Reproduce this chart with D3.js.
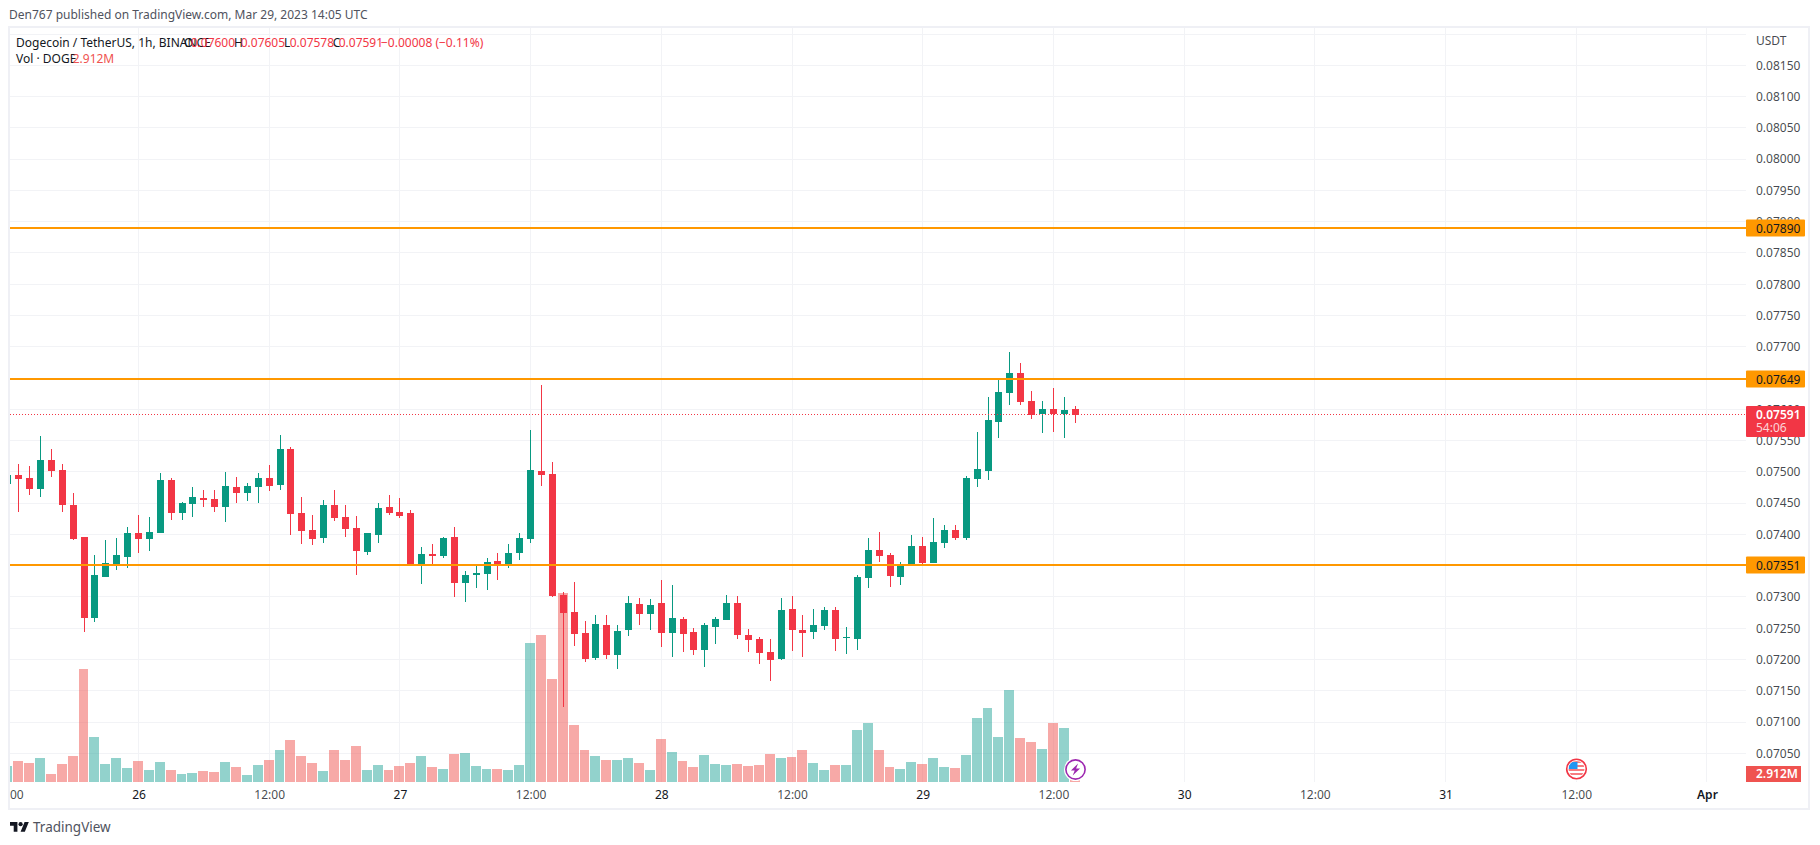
<!DOCTYPE html>
<html>
<head>
<meta charset="utf-8">
<title>Dogecoin / TetherUS</title>
<script src="https://cdn.jsdelivr.net/npm/d3@7"></script>
<style>
    html, body { margin: 0; padding: 0; background: #fff; }
    svg { display: block; }
    text { font-family: "Noto Sans", sans-serif; font-size: 12px; }
</style>
</head>
<body>
<svg id="chart" width="1820" height="845"></svg>
<script>
// First candle on the chart is Mar 25 12:00 UTC, one candle per hour
const firstCandle = new Date(Date.UTC(2023, 2, 25, 12));

const opens = [
    0.07481, 0.07495, 0.07490, 0.07473, 0.07519, 0.07503, 0.07447, 0.07396, 0.07266, 0.07332,
    0.07353, 0.07364, 0.07402, 0.07393, 0.07402, 0.07487, 0.07434, 0.07449, 0.07458, 0.07457,
    0.07444, 0.07476, 0.07466, 0.07476, 0.07490, 0.07479, 0.07537, 0.07434, 0.07407, 0.07394,
    0.07447, 0.07428, 0.07410, 0.07372, 0.07399, 0.07444, 0.07436, 0.07434, 0.07353, 0.07369,
    0.07366, 0.07396, 0.07322, 0.07335, 0.07337, 0.07358, 0.07351, 0.07370, 0.07393, 0.07501,
    0.07497, 0.07303, 0.07276, 0.07242, 0.07202, 0.07255, 0.07207, 0.07247, 0.07289, 0.07273,
    0.07290, 0.07242, 0.07265, 0.07244, 0.07215, 0.07252, 0.07263, 0.07290, 0.07239, 0.07233,
    0.07212, 0.07201, 0.07281, 0.07247, 0.07244, 0.07254, 0.07279, 0.07234, 0.07233, 0.07330,
    0.07375, 0.07367, 0.07332, 0.07350, 0.07382, 0.07354, 0.07386, 0.07407, 0.07394, 0.07489,
    0.07501, 0.07580, 0.07626, 0.07658, 0.07613, 0.07593, 0.07601, 0.07593, 0.07600
];
const highs = [
    0.07497, 0.07513, 0.07509, 0.07557, 0.07537, 0.07513, 0.07466, 0.07396, 0.07367, 0.07391,
    0.07394, 0.07412, 0.07431, 0.07428, 0.07498, 0.07490, 0.07452, 0.07476, 0.07471, 0.07471,
    0.07500, 0.07492, 0.07482, 0.07498, 0.07511, 0.07559, 0.07540, 0.07460, 0.07431, 0.07455,
    0.07471, 0.07447, 0.07429, 0.07402, 0.07450, 0.07463, 0.07458, 0.07439, 0.07380, 0.07385,
    0.07396, 0.07412, 0.07342, 0.07350, 0.07362, 0.07370, 0.07385, 0.07402, 0.07567, 0.07639,
    0.07516, 0.07308, 0.07324, 0.07262, 0.07271, 0.07271, 0.07255, 0.07302, 0.07298, 0.07297,
    0.07327, 0.07319, 0.07268, 0.07250, 0.07258, 0.07268, 0.07303, 0.07302, 0.07249, 0.07236,
    0.07233, 0.07298, 0.07302, 0.07271, 0.07281, 0.07284, 0.07284, 0.07252, 0.07335, 0.07394,
    0.07404, 0.07370, 0.07356, 0.07399, 0.07396, 0.07426, 0.07415, 0.07415, 0.07493, 0.07564,
    0.07620, 0.07650, 0.07692, 0.07674, 0.07629, 0.07613, 0.07634, 0.07620, 0.07605
];
const lows = [
    0.07480, 0.07436, 0.07463, 0.07460, 0.07492, 0.07436, 0.07391, 0.07244, 0.07260, 0.07332,
    0.07343, 0.07346, 0.07370, 0.07374, 0.07402, 0.07423, 0.07423, 0.07428, 0.07444, 0.07436,
    0.07420, 0.07450, 0.07453, 0.07450, 0.07469, 0.07471, 0.07399, 0.07385, 0.07383, 0.07386,
    0.07421, 0.07396, 0.07335, 0.07367, 0.07386, 0.07431, 0.07426, 0.07351, 0.07321, 0.07353,
    0.07362, 0.07300, 0.07292, 0.07314, 0.07311, 0.07327, 0.07346, 0.07359, 0.07386, 0.07477,
    0.07300, 0.07124, 0.07222, 0.07196, 0.07199, 0.07201, 0.07185, 0.07238, 0.07255, 0.07247,
    0.07220, 0.07204, 0.07212, 0.07207, 0.07188, 0.07225, 0.07263, 0.07233, 0.07212, 0.07193,
    0.07166, 0.07199, 0.07214, 0.07204, 0.07233, 0.07247, 0.07214, 0.07209, 0.07215, 0.07314,
    0.07356, 0.07316, 0.07319, 0.07350, 0.07351, 0.07354, 0.07378, 0.07391, 0.07391, 0.07476,
    0.07487, 0.07554, 0.07607, 0.07607, 0.07585, 0.07562, 0.07564, 0.07554, 0.07578
];
const closes = [
    0.07495, 0.07489, 0.07473, 0.07519, 0.07501, 0.07447, 0.07393, 0.07266, 0.07335, 0.07354,
    0.07367, 0.07402, 0.07393, 0.07404, 0.07487, 0.07434, 0.07450, 0.07460, 0.07455, 0.07444,
    0.07477, 0.07466, 0.07477, 0.07490, 0.07477, 0.07537, 0.07433, 0.07405, 0.07393, 0.07447,
    0.07426, 0.07409, 0.07374, 0.07402, 0.07442, 0.07434, 0.07429, 0.07353, 0.07369, 0.07366,
    0.07394, 0.07322, 0.07335, 0.07338, 0.07356, 0.07353, 0.07370, 0.07394, 0.07503, 0.07495,
    0.07302, 0.07274, 0.07241, 0.07201, 0.07257, 0.07207, 0.07246, 0.07290, 0.07273, 0.07287,
    0.07242, 0.07266, 0.07241, 0.07215, 0.07255, 0.07265, 0.07290, 0.07239, 0.07231, 0.07210,
    0.07199, 0.07279, 0.07247, 0.07242, 0.07255, 0.07279, 0.07233, 0.07236, 0.07332, 0.07375,
    0.07366, 0.07334, 0.07351, 0.07382, 0.07354, 0.07388, 0.07407, 0.07394, 0.07490, 0.07505,
    0.07583, 0.07628, 0.07658, 0.07612, 0.07591, 0.07601, 0.07593, 0.07599, 0.07591
];
// Volume in millions of DOGE
const volumes = [
    5.82, 7.64, 6.91, 8.73, 2.91, 6.55, 9.46, 41.12, 16.38, 6.55,
    8.73, 5.09, 7.64, 4.37, 7.28, 4.37, 2.91, 3.28, 4.00, 3.64,
    7.28, 5.46, 2.55, 6.19, 8.01, 11.64, 15.28, 9.46, 6.91, 4.00,
    11.64, 8.01, 13.10, 4.37, 6.19, 4.37, 5.82, 6.91, 9.46, 5.46,
    4.73, 10.19, 10.55, 5.82, 4.73, 4.73, 4.37, 6.19, 50.58, 53.49,
    37.48, 68.78, 20.74, 11.64, 9.46, 8.01, 8.01, 8.73, 6.91, 4.37,
    15.65, 10.92, 7.64, 5.46, 9.83, 6.55, 6.19, 6.55, 5.82, 6.19,
    10.19, 8.73, 9.10, 11.64, 6.91, 4.37, 6.19, 6.19, 18.92, 21.47,
    11.64, 5.46, 4.73, 7.28, 6.55, 8.73, 5.46, 5.09, 9.83, 23.29,
    26.93, 16.38, 33.48, 16.01, 14.56, 12.01, 21.47, 19.65, 2.912
];

const priceTicks = [
    0.0815, 0.0810, 0.0805, 0.0800, 0.0795, 0.0790, 0.0785, 0.0780, 0.0775, 0.0770, 0.0765, 0.0760,
    0.0755, 0.0750, 0.0745, 0.0740, 0.0735, 0.0730, 0.0725, 0.0720, 0.0715, 0.0710, 0.0705
];
const timeTicks = [
    '2023-03-25T12:00Z', '2023-03-26T00:00Z', '2023-03-26T12:00Z', '2023-03-27T00:00Z', '2023-03-27T12:00Z',
    '2023-03-28T00:00Z', '2023-03-28T12:00Z', '2023-03-29T00:00Z', '2023-03-29T12:00Z', '2023-03-30T00:00Z',
    '2023-03-30T12:00Z', '2023-03-31T00:00Z', '2023-03-31T12:00Z', '2023-04-01T00:00Z'
].map(d => new Date(d));
const levels = [0.07890, 0.07649, 0.07351];
const lastPrice = 0.07591;

const upColor = '#089981';
const downColor = '#f23645';
const upVolume = '#26a69a';
const downVolume = '#ef5350';
const gridColor = '#f2f3f6';
const borderColor = '#eff0f5';
const textColor = '#131722';
const levelColor = '#ff9800';

// Pane edges
const paneLeft = 10;
const paneRight = 1746;
const paneTop = 28;
const paneBottom = 782;

const candles = opens.map((open, i) => ({
    time: d3.utcHour.offset(firstCandle, i),
    open, high: highs[i], low: lows[i], close: closes[i], volume: volumes[i]
}));

const xScale = d3.scaleUtc()
    .domain([new Date(Date.UTC(2023, 2, 26)), new Date(Date.UTC(2023, 3, 1))])
    .range([138.5, 138.5 + 144 * 10.892]);
const yScale = d3.scaleLinear().domain([0.0815, 0.0705]).range([65.3, 753.3]);
const volumeScale = d3.scaleLinear().domain([0, 68.78]).range([paneBottom, paneBottom - 189]);
const px = d => Math.floor(xScale(d));

const svg = d3.select('#chart');

svg.append('defs').append('clipPath').attr('id', 'pane')
    .append('rect')
    .attr('x', paneLeft).attr('y', paneTop)
    .attr('width', paneRight - paneLeft).attr('height', 810 - paneTop);

// Page header
svg.append('text').attr('x', 9).attr('y', 19).attr('fill', '#50535e').style('font-size', '12px')
    .text('Den767 published on TradingView.com, Mar 29, 2023 14:05 UTC');

// Grid
const grid = svg.append('g').attr('shape-rendering', 'crispEdges');
grid.selectAll('.h').data([0.0820, ...priceTicks]).join('rect')
    .attr('x', paneLeft).attr('width', paneRight - paneLeft)
    .attr('y', d => Math.floor(yScale(d))).attr('height', 1)
    .attr('fill', gridColor);
grid.selectAll('.v').data(timeTicks).join('rect')
    .attr('clip-path', 'url(#pane)')
    .attr('x', d => px(d)).attr('width', 1)
    .attr('y', paneTop).attr('height', paneBottom - paneTop)
    .attr('fill', gridColor);

// Volume bars, one pixel apart
const plot = svg.append('g').attr('clip-path', 'url(#pane)').attr('shape-rendering', 'crispEdges');
plot.append('g').selectAll('rect').data(candles).join('rect')
    .attr('x', d => px(d.time) - 5)
    .attr('width', d => {
        const left = px(d.time) - 5;
        const nextLeft = px(d3.utcHour.offset(d.time, 1)) - 5;
        return Math.min(10, nextLeft - 1 - left);
    })
    .attr('y', d => Math.round(volumeScale(d.volume)))
    .attr('height', d => paneBottom - Math.round(volumeScale(d.volume)))
    .attr('fill', d => d.close >= d.open ? upVolume : downVolume)
    .attr('fill-opacity', 0.5);

// Candles
const candleColor = d => d.close >= d.open ? upColor : downColor;
plot.append('g').selectAll('rect').data(candles).join('rect')
    .attr('x', d => px(d.time)).attr('width', 1)
    .attr('y', d => Math.round(yScale(d.high)))
    .attr('height', d => Math.round(yScale(d.low)) - Math.round(yScale(d.high)))
    .attr('fill', candleColor);
plot.append('g').selectAll('rect').data(candles).join('rect')
    .attr('x', d => px(d.time) - 3).attr('width', 7)
    .attr('y', d => Math.round(yScale(Math.max(d.open, d.close))))
    .attr('height', d => Math.max(1, Math.round(yScale(Math.min(d.open, d.close))) - Math.round(yScale(Math.max(d.open, d.close)))))
    .attr('fill', candleColor);

// Last price dotted line and horizontal levels
svg.append('line')
    .attr('x1', paneLeft).attr('x2', paneRight)
    .attr('y1', Math.floor(yScale(lastPrice)) + 0.5).attr('y2', Math.floor(yScale(lastPrice)) + 0.5)
    .attr('stroke', downColor).attr('stroke-dasharray', '1,2');
svg.append('g').attr('shape-rendering', 'crispEdges').selectAll('rect').data(levels).join('rect')
    .attr('x', paneLeft).attr('width', paneRight - paneLeft)
    .attr('y', d => Math.round(yScale(d)) - 1).attr('height', 2)
    .attr('fill', levelColor);

// Price axis
const priceAxis = svg.append('g')
    .attr('transform', `translate(${paneRight},0)`)
    .call(d3.axisRight(yScale).tickValues(priceTicks).tickFormat(d3.format('.5f')).tickSize(0).tickPadding(10));
priceAxis.select('.domain').remove();
priceAxis.selectAll('text').attr('fill', textColor).attr('fill-opacity', 0.8)
    .style('font-family', '"Noto Sans", sans-serif').style('font-size', '12px');
svg.append('text').attr('x', 1756).attr('y', 45).attr('fill', textColor).attr('fill-opacity', 0.8).text('USDT');

// Time axis
const timeAxis = svg.append('g')
    .attr('transform', `translate(0,${paneBottom})`)
    .attr('clip-path', 'url(#axisClip)')
    .call(d3.axisBottom(xScale).tickValues(timeTicks).tickSize(0).tickPadding(8).tickFormat(d => {
        if (d.getUTCHours() === 12) return '12:00';
        if (d.getUTCDate() === 1) return 'Apr';
        return d3.utcFormat('%-d')(d);
    }));
timeAxis.select('.domain').remove();
timeAxis.selectAll('text')
    .attr('fill', textColor)
    .attr('fill-opacity', d => d.getUTCHours() === 12 ? 0.8 : 1)
    .style('font-weight', d => d.getUTCDate() === 1 ? 600 : 400)
    .style('font-family', '"Noto Sans", sans-serif').style('font-size', '12px');
svg.select('defs').append('clipPath').attr('id', 'axisClip')
    .append('rect').attr('x', paneLeft).attr('y', 0).attr('width', 1800).attr('height', 26);

// Tags on the price axis
const tags = svg.append('g');
levels.forEach(level => {
    const cy = Math.round(yScale(level));
    tags.append('rect').attr('x', paneRight).attr('y', cy - 8.5).attr('width', 59).attr('height', 17)
        .attr('rx', 1).attr('fill', levelColor);
    tags.append('text').attr('x', 1756).attr('y', cy + 4.5).attr('fill', textColor).text(d3.format('.5f')(level));
});
const lastY = Math.floor(yScale(lastPrice));
tags.append('rect').attr('x', paneRight).attr('y', lastY - 8).attr('width', 59).attr('height', 31)
    .attr('rx', 1).attr('fill', downColor);
tags.append('text').attr('x', 1756).attr('y', lastY + 5).attr('fill', '#fff').style('font-weight', 600).text(d3.format('.5f')(lastPrice));
tags.append('text').attr('x', 1756).attr('y', lastY + 18).attr('fill', '#fff').attr('fill-opacity', 0.8).text('54:06');
const lastVolume = volumes[volumes.length - 1];
tags.append('rect').attr('x', paneRight).attr('y', 766).attr('width', 55).attr('height', 16).attr('fill', downVolume);
tags.append('text').attr('x', 1756).attr('y', 778).attr('fill', '#fff').style('font-weight', 600).text(lastVolume.toFixed(3) + 'M');

// Event markers sit on the time scale
const boltIcon = svg.append('g')
    .attr('transform', `translate(${px(candles[candles.length - 1].time) + 0.5},769.5)`);
boltIcon.append('circle').attr('r', 11.5).attr('fill', '#fff');
boltIcon.append('circle').attr('r', 9.6).attr('fill', '#fff').attr('stroke', '#9c27b0').attr('stroke-width', 1.6);
boltIcon.append('path').attr('d', 'M2.6 -6 L-4.6 1 H-0.8 L-2.8 6 L4.6 -1 H0.6 Z').attr('fill', '#9c27b0');

const flagIcon = svg.append('g')
    .attr('transform', `translate(${px(new Date(Date.UTC(2023, 2, 31, 12))) + 0.5},769)`);
svg.select('defs').append('clipPath').attr('id', 'flag').append('circle').attr('r', 8);
flagIcon.append('circle').attr('r', 11.5).attr('fill', '#fff');
flagIcon.append('circle').attr('r', 9.8).attr('fill', '#fff').attr('stroke', '#f23645').attr('stroke-width', 1.6);
const flag = flagIcon.append('g').attr('clip-path', 'url(#flag)');
[-4, 0, 4].forEach(y => flag.append('rect').attr('x', -9).attr('y', y).attr('width', 18).attr('height', 2).attr('fill', '#f77c80'));
flag.append('rect').attr('x', -9).attr('y', -8).attr('width', 18).attr('height', 2).attr('fill', '#f77c80');
flag.append('rect').attr('x', -8).attr('y', -7).attr('width', 9).attr('height', 7).attr('fill', '#2196f3');

// Legend
const legend = svg.append('g');
const legendItems = [
    ['Dogecoin / TetherUS, 1h, BINANCE', 16, textColor],
    ['O', 184, textColor], ['0.07600', 190.7, downColor],
    ['H', 234, textColor], ['0.07605', 240.7, downColor],
    ['L', 284, textColor], ['0.07578', 289.7, downColor],
    ['C', 332.7, textColor], ['0.07591', 338.7, downColor],
    ['\u22120.00008 (\u22120.11%)', 381, downColor]
];
legend.selectAll('text').data(legendItems).join('text')
    .attr('x', d => d[1]).attr('y', 47).attr('fill', d => d[2]).text(d => d[0]);
legend.append('text').attr('x', 16).attr('y', 63).attr('fill', textColor).text('Vol \u00b7 DOGE');
legend.append('text').attr('x', 72.7).attr('y', 63).attr('fill', downVolume).text(lastVolume.toFixed(3) + 'M');

// Outer frame
svg.append('rect').attr('x', 9).attr('y', 27).attr('width', 1800).attr('height', 782)
    .attr('fill', 'none').attr('stroke', borderColor).attr('stroke-width', 2).attr('shape-rendering', 'crispEdges');

// TradingView logo
const logo = svg.append('g').attr('transform', 'translate(10,820) scale(0.53)').attr('fill', '#131722');
logo.append('path').attr('d', 'M14 22H7V11H0V4h14v18zM28 22h-8l7.5-18h8L28 22z');
logo.append('circle').attr('cx', 20).attr('cy', 8).attr('r', 4);
svg.append('text').attr('x', 33).attr('y', 832).attr('fill', '#50535e').style('font-size', '13.5px').text('TradingView');
</script>
</body>
</html>
